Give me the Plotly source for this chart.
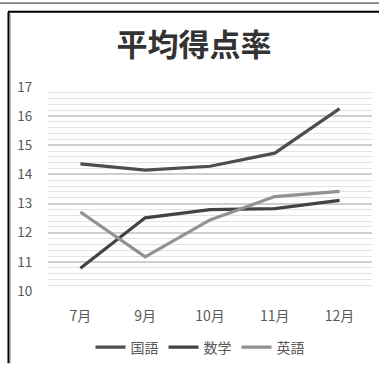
import plotly.graph_objects as go

months = ["7月", "9月", "10月", "11月", "12月"]
kokugo = [14.36, 14.15, 14.28, 14.73, 16.26]
suugaku = [10.78, 12.51, 12.79, 12.83, 13.11]
eigo = [12.71, 11.17, 12.44, 13.24, 13.42]
series_names = ["国語", "数学", "英語"]
series_colors = ["#4e4e4e", "#434343", "#929292"]

W, H = 379, 370
L, R, T, B = 48, 7, 87, 74
pw, ph = W - L - R, H - T - B

def px_x(x):
    return (x - L) / pw

def px_y(y):
    return (H - B - y) / ph

fig = go.Figure()
for name, vals, col in zip(series_names, [kokugo, suugaku, eigo], series_colors):
    fig.add_trace(go.Scatter(x=months, y=vals, mode="lines", name=name,
                             line=dict(color=col, width=3.2)))

font = "Noto Sans CJK JP"
fig.update_layout(
    width=W, height=H,
    margin=dict(l=L, r=R, t=T, b=B, pad=0),
    paper_bgcolor="white", plot_bgcolor="white",
    title=dict(text="<b>平均得点率</b>", x=(194) / W, xanchor="center",
               y=1 - 45 / H, yanchor="middle", yref="container",
               font=dict(family=font, size=31, color="#333333")),
    xaxis=dict(type="category", range=[-0.5, 4.5], showgrid=False, zeroline=False,
               showline=False, ticks="outside", ticklen=12, tickcolor="rgba(0,0,0,0)",
               tickfont=dict(family=font, size=14, color="#595959")),
    yaxis=dict(range=[10, 17], dtick=1, tick0=10, showgrid=True, gridcolor="#cfcfcf",
               gridwidth=1.5, zeroline=False, showline=False,
               ticks="outside", ticklen=12, tickcolor="rgba(0,0,0,0)",
               tickfont=dict(family=font, size=13.5, color="#595959"),
               minor=dict(dtick=0.2, showgrid=True, gridcolor="#e2e2e2", gridwidth=1)),
    showlegend=True,
    legend=dict(orientation="h", x=px_x(200), xanchor="center", y=px_y(354),
                yanchor="middle", font=dict(family=font, size=14, color="#595959"),
                itemwidth=30, tracegroupgap=0, bgcolor="rgba(0,0,0,0)"),
)

# outer frame lines
fig.add_shape(type="line", xref="paper", yref="paper", x0=px_x(0), x1=px_x(W),
              y0=px_y(1), y1=px_y(1), line=dict(color="#222222", width=1))
fig.add_shape(type="line", xref="paper", yref="paper", x0=px_x(8), x1=px_x(W),
              y0=px_y(10), y1=px_y(10), line=dict(color="#000000", width=2))
fig.add_shape(type="line", xref="paper", yref="paper", x0=px_x(8.5), x1=px_x(8.5),
              y0=px_y(10), y1=px_y(H), line=dict(color="#000000", width=2))
fig.add_shape(type="line", xref="paper", yref="paper", x0=px_x(10.5), x1=px_x(10.5),
              y0=px_y(11), y1=px_y(H), line=dict(color="#bbbbbb", width=1))

fig.write_html("out.html")
